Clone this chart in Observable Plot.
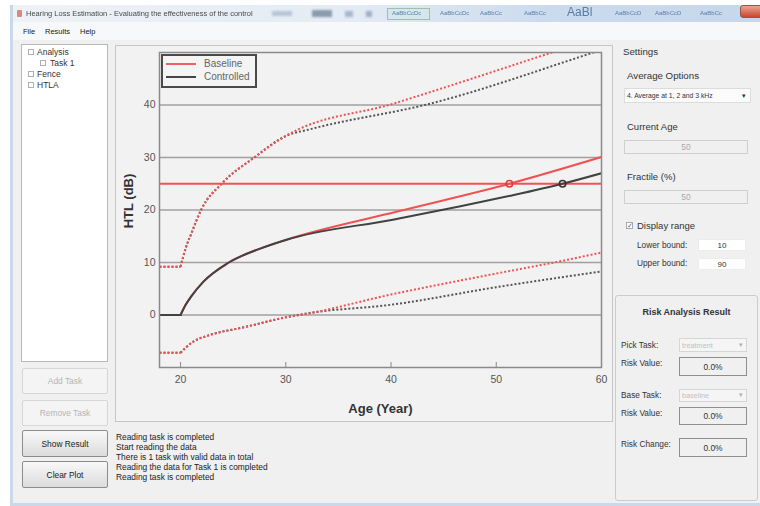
<!DOCTYPE html>
<html><head><meta charset="utf-8">
<script src="https://cdn.jsdelivr.net/npm/d3@7"></script>
<script src="https://cdn.jsdelivr.net/npm/@observablehq/plot@0.6"></script>
<style>
html,body{margin:0;padding:0;background:#fff;}
#app{position:relative;width:760px;height:506px;overflow:hidden;font-family:"Liberation Sans",Arial,sans-serif;color:#333;}
#app div{position:absolute;box-sizing:border-box;}
.t{white-space:nowrap;line-height:1;}
.btn{display:flex;align-items:center;justify-content:center;font-size:8.4px;border-radius:2px;}
.btn.off{background:#f4f4f4;border:1px solid #d6d6d6;color:#b4b4b4;}
.btn.on{background:linear-gradient(#f8f8f8,#dcdcdc);border:1px solid #8c8c8c;color:#222;}
.box{display:flex;align-items:center;justify-content:center;font-size:8.4px;}
.ico{width:6px;height:6px;border:1px solid #b0b0b0;background:#fff;}
</style></head>
<body><div id="app">
  <!-- window frame -->
  <div style="left:10px;top:5px;width:760px;height:501px;background:#c9d9ea;"></div>
  <div style="left:13px;top:5px;width:760px;height:17px;background:linear-gradient(90deg,#eef2f6 0%,#e3ebf4 45%,#cbdbee 70%,#c5d7ec 100%);"></div>
  <div style="left:17px;top:10px;width:5px;height:7px;background:#d98a7a;border-radius:1px;"></div>
  <div class="t" style="left:26px;top:10px;font-size:7.5px;color:#4a4a4a;filter:blur(0.35px);">Hearing Loss Estimation - Evaluating the effectiveness of the control</div>
  <div style="left:272px;top:11px;width:20px;height:5px;background:#b7c6d8;filter:blur(1.2px);"></div>
  <div style="left:312px;top:10px;width:20px;height:7px;background:#8a9bb0;filter:blur(1.2px);"></div>
  <div style="left:345px;top:11px;width:8px;height:6px;background:#a8b8cc;filter:blur(1.2px);"></div>
  <div style="left:366px;top:11px;width:6px;height:6px;background:#a0b0c4;filter:blur(1.2px);"></div>
  <div style="left:387px;top:8px;width:43px;height:12px;border:1px solid #9fc2a6;background:#d4e6ee;filter:blur(0.6px);"></div>
  <div class="t" style="left:392px;top:10px;font-size:6px;color:#5e7ea8;filter:blur(0.7px);">AaBbCcDc</div>
  <div class="t" style="left:440px;top:10px;font-size:6px;color:#5e7ea8;filter:blur(0.7px);">AaBbCcDc</div>
  <div class="t" style="left:480px;top:10px;font-size:6px;color:#5e7ea8;filter:blur(0.7px);">AaBbCc</div>
  <div class="t" style="left:524px;top:10px;font-size:6px;color:#5e7ea8;filter:blur(0.7px);">AaBbCc</div>
  <div class="t" style="left:567px;top:6px;font-size:12px;color:#5a7aa6;filter:blur(0.6px);">AaBl</div>
  <div class="t" style="left:615px;top:10px;font-size:6px;color:#5e7ea8;filter:blur(0.7px);">AaBbCcD</div>
  <div class="t" style="left:655px;top:10px;font-size:6px;color:#5e7ea8;filter:blur(0.7px);">AaBbCcD</div>
  <div class="t" style="left:700px;top:10px;font-size:6px;color:#5e7ea8;filter:blur(0.7px);">AaBbCc</div>
  <div style="left:740px;top:5px;width:24px;height:13px;border-radius:3px;background:linear-gradient(#eaa594,#c9462f);border:1px solid #a0503c;"></div>
  <!-- menu + body -->
  <div style="left:13px;top:22px;width:760px;height:18px;background:#f7f8fa;"></div>
  <div class="t" style="left:23px;top:28px;font-size:7.5px;color:#222;">File</div>
  <div class="t" style="left:45px;top:28px;font-size:7.5px;color:#222;">Results</div>
  <div class="t" style="left:80px;top:28px;font-size:7.5px;color:#222;">Help</div>
  <div style="left:13px;top:40px;width:760px;height:463px;background:#f0f0f0;"></div>
  <!-- tree -->
  <div style="left:21px;top:44px;width:87px;height:318px;background:#fff;border:1px solid #b8b8b8;"></div>
  <div class="ico" style="left:28px;top:49px;"></div>
  <div class="t" style="left:37px;top:48px;font-size:8.5px;color:#333;">Analysis</div>
  <div class="ico" style="left:40px;top:60px;"></div>
  <div class="t" style="left:50px;top:59px;font-size:8.5px;color:#333;">Task 1</div>
  <div class="ico" style="left:28px;top:71px;"></div>
  <div class="t" style="left:37px;top:70px;font-size:8.5px;color:#333;">Fence</div>
  <div class="ico" style="left:28px;top:82px;"></div>
  <div class="t" style="left:37px;top:81px;font-size:8.5px;color:#333;">HTLA</div>
  <!-- buttons -->
  <div class="btn off" style="left:22px;top:368px;width:86px;height:26px;">Add Task</div>
  <div class="btn off" style="left:22px;top:400px;width:86px;height:26px;">Remove Task</div>
  <div class="btn on" style="left:22px;top:430px;width:86px;height:27px;">Show Result</div>
  <div class="btn on" style="left:22px;top:461px;width:86px;height:27px;">Clear Plot</div>
  <!-- log -->
  <div class="t" style="left:116px;top:432px;font-size:8.4px;line-height:10px;color:#222;white-space:pre;">Reading task is completed
Start reading the data
There is 1 task with valid data in total
Reading the data for Task 1 is completed
Reading task is completed</div>
  <!-- chart panel -->
  <div style="left:115px;top:45px;width:498px;height:377px;border:1px solid #c6c6c6;background:#f2f2f2;"></div>
  <div id="chart" style="left:116px;top:46px;width:496px;height:375px;"></div>
  <!-- legend -->
  <div style="left:161px;top:54px;width:96px;height:34px;border:2px solid #4a4a4a;background:#f4f4f4;"></div>
  <div style="left:166px;top:63px;width:30px;height:2px;background:#f06060;"></div>
  <div style="left:166px;top:76px;width:30px;height:2px;background:#454545;"></div>
  <div class="t" style="left:204px;top:59px;font-size:10px;color:#666;">Baseline</div>
  <div class="t" style="left:204px;top:72px;font-size:10px;color:#666;">Controlled</div>
  <!-- settings -->
  <div class="t" style="left:623px;top:47px;font-size:9.7px;color:#333;">Settings</div>
  <div class="t" style="left:627px;top:71px;font-size:9.7px;color:#333;">Average Options</div>
  <div style="left:624px;top:88px;width:127px;height:15px;background:#fbfbfb;border:1px solid #dcdcdc;"></div>
  <div class="t" style="left:627px;top:93px;font-size:6.8px;color:#333;">4. Average at 1, 2 and 3 kHz</div>
  <div class="t" style="left:742px;top:92px;font-size:7px;color:#333;">▾</div>
  <div class="t" style="left:627px;top:122px;font-size:9.5px;color:#333;">Current Age</div>
  <div class="box" style="left:624px;top:140px;width:124px;height:14px;border:1px solid #cfcfcf;background:#f0f0f0;color:#a8a8a8;">50</div>
  <div class="t" style="left:627px;top:172px;font-size:9.5px;color:#333;">Fractile (%)</div>
  <div class="box" style="left:624px;top:190px;width:124px;height:14px;border:1px solid #cfcfcf;background:#f0f0f0;color:#a8a8a8;">50</div>
  <div class="box" style="left:626px;top:222px;width:7px;height:7px;border:1px solid #a8a8a8;background:#fff;color:#3b5fb0;font-size:7px;">✓</div>
  <div class="t" style="left:637px;top:221px;font-size:9.5px;color:#333;">Display range</div>
  <div class="t" style="left:637px;top:241px;font-size:8.3px;color:#333;">Lower bound:</div>
  <div class="box" style="left:698px;top:239px;width:48px;height:12px;background:#fff;border:1px solid #ececec;color:#333;font-size:8px;">10</div>
  <div class="t" style="left:637px;top:259px;font-size:8.3px;color:#333;">Upper bound:</div>
  <div class="box" style="left:698px;top:258px;width:48px;height:12px;background:#fff;border:1px solid #ececec;color:#333;font-size:8px;">90</div>
  <!-- risk -->
  <div style="left:615px;top:295px;width:143px;height:206px;border:1px solid #cbcbcb;border-radius:3px;"></div>
  <div class="t" style="left:615px;top:308px;width:143px;text-align:center;font-size:9px;font-weight:bold;color:#333;">Risk Analysis Result</div>
  <div class="t" style="left:621px;top:341px;font-size:8.3px;color:#333;">Pick Task:</div>
  <div style="left:679px;top:338px;width:68px;height:14px;border:1px solid #d6d6d6;background:#f5f5f5;"></div>
  <div class="t" style="left:682px;top:342px;font-size:7.3px;color:#c2c2c2;">treatment</div>
  <div class="t" style="left:739px;top:341px;font-size:7px;color:#b0b0b0;">▾</div>
  <div class="t" style="left:621px;top:359px;font-size:8.3px;color:#333;">Risk Value:</div>
  <div class="box" style="left:679px;top:357px;width:68px;height:19px;border:1px solid #8e8e8e;background:#f0f0f0;color:#333;">0.0%</div>
  <div class="t" style="left:621px;top:391px;font-size:8.3px;color:#333;">Base Task:</div>
  <div style="left:679px;top:389px;width:68px;height:13px;border:1px solid #d6d6d6;background:#f5f5f5;"></div>
  <div class="t" style="left:682px;top:392px;font-size:7.3px;color:#c2c2c2;">baseline</div>
  <div class="t" style="left:739px;top:391px;font-size:7px;color:#b0b0b0;">▾</div>
  <div class="t" style="left:621px;top:409px;font-size:8.3px;color:#333;">Risk Value:</div>
  <div class="box" style="left:679px;top:407px;width:68px;height:18px;border:1px solid #8e8e8e;background:#f0f0f0;color:#333;">0.0%</div>
  <div class="t" style="left:621px;top:440px;font-size:8.3px;color:#333;">Risk Change:</div>
  <div class="box" style="left:679px;top:438px;width:68px;height:19px;border:1px solid #8e8e8e;background:#f0f0f0;color:#333;">0.0%</div>
</div>
<script>
// axis ticks
const xTicks = [20, 30, 40, 50, 60];
const yTicks = [0, 10, 20, 30, 40];
const thresholdHTL = [25];

// early-age part shared by baseline and controlled
const medianAge = [18, 20, 20.5, 21, 22.2, 24.5, 27.5, 30];
const medianHTL = [0, 0, 2.0, 3.5, 6.4, 9.9, 12.6, 14.3];
const upperAge = [18, 20, 20.5, 21, 22, 23.9, 27, 30];
const upperHTL = [9.2, 9.2, 12.8, 15.4, 20.2, 25, 30, 34.1];
const lowerAge = [18, 20, 20.5, 21.2, 22.8, 26, 30];
const lowerHTL = [-7.2, -7.2, -6.2, -5.1, -3.8, -2.35, -0.45];

// later-age parts
const baselineMedianAge = [40.6, 51.25, 60];
const baselineMedianHTL = [19.7, 25, 30.1];
const controlledMedianAge = [40.3, 46.6, 51.2, 56.3, 60];
const controlledMedianHTL = [18.2, 20.7, 22.65, 25, 27.0];
const baselineUpperAge = [40.3, 55.05, 60];
const baselineUpperHTL = [40.3, 49.85, 53.1];
const controlledUpperAge = [32.35, 43.8, 59, 60];
const controlledUpperHTL = [35.4, 40.3, 49.85, 50.5];
const baselineLowerAge = [31.4, 40, 50, 55.5, 60];
const baselineLowerHTL = [0, 3.9, 7.9, 10, 11.9];
const controlledLowerAge = [32, 40, 50, 60];
const controlledLowerHTL = [0.3, 1.95, 5.3, 8.3];

// ages where the median curves reach the 25 dB level
const crossAge = [51.25, 56.3];
const crossHTL = [25, 25];
const crossSeries = ["Baseline", "Controlled"];

const rows = (ages, vals) => ages.map((a, i) => ({age: a, htl: vals[i]}));
const RED = "#f05252", DARK = "#424242", DARKDOT = "#555555";

function curve(data, style) {
  return [
    Plot.line(data.filter(d => d.age <= 20), {x: "age", y: "htl", clip: true, ...style}),
    Plot.line(data.filter(d => d.age >= 20), {x: "age", y: "htl", curve: "monotone-x", clip: true, ...style})
  ];
}
const dotted = c => ({stroke: c, strokeWidth: 2, strokeDasharray: "2,2", strokeLinecap: "butt"});
const solid = c => ({stroke: c, strokeWidth: 2});

const bMed = rows([...medianAge, ...baselineMedianAge], [...medianHTL, ...baselineMedianHTL]);
const cMed = rows([...medianAge, ...controlledMedianAge], [...medianHTL, ...controlledMedianHTL]);
const bUp = rows([...upperAge, ...baselineUpperAge], [...upperHTL, ...baselineUpperHTL]);
const cUp = rows([...upperAge, ...controlledUpperAge], [...upperHTL, ...controlledUpperHTL]);
const bLo = rows([...lowerAge, ...baselineLowerAge], [...lowerHTL, ...baselineLowerHTL]);
const cLo = rows([...lowerAge, ...controlledLowerAge], [...lowerHTL, ...controlledLowerHTL]);
const crossings = crossAge.map((a, i) => ({age: a, htl: crossHTL[i], series: crossSeries[i]}));

const chart = Plot.plot({
  width: 496, height: 375,
  marginLeft: 43, marginTop: 6, marginRight: 11, marginBottom: 54,
  style: {background: "transparent", fontFamily: "Liberation Sans, Arial, sans-serif", fontSize: "10.5px", color: "#555", overflow: "visible"},
  x: {domain: [18, 60]},
  y: {domain: [-10, 50]},
  marks: [
    Plot.gridY(yTicks, {stroke: "#a0a0a0", strokeOpacity: 1, strokeWidth: 1.5}),
    Plot.axisX({ticks: xTicks, tickSize: -5, tickPadding: 13, stroke: "#8a8a8a", label: null}),
    Plot.axisY({ticks: yTicks, tickSize: 0, tickPadding: 4, label: null}),
    ...curve(cUp, dotted(DARKDOT)),
    ...curve(cLo, dotted(DARKDOT)),
    ...curve(bUp, dotted(RED)),
    ...curve(bLo, dotted(RED)),
    Plot.ruleY(thresholdHTL, {stroke: RED, strokeWidth: 2}),
    ...curve(bMed, solid(RED)),
    ...curve(cMed, solid(DARK)),
    Plot.dot(crossings, {x: "age", y: "htl", r: 3.2, fill: "none", strokeWidth: 1.6,
      stroke: d => d.series === "Baseline" ? "#e03c3c" : "#333"}),
    Plot.frame({stroke: "#8a8a8a", strokeWidth: 1.5}),
    Plot.text(["Age (Year)"], {frameAnchor: "bottom", dy: 41, text: d => d, fontWeight: "bold", fontSize: 13, fill: "#333", lineAnchor: "middle"}),
    Plot.text(["HTL (dB)"], {frameAnchor: "left", dx: -31, dy: -9, rotate: -90, textAnchor: "middle", text: d => d, fontWeight: "bold", fontSize: 13, fill: "#333", lineAnchor: "middle"})
  ]
});
document.getElementById("chart").appendChild(chart);
</script>
</body></html>
